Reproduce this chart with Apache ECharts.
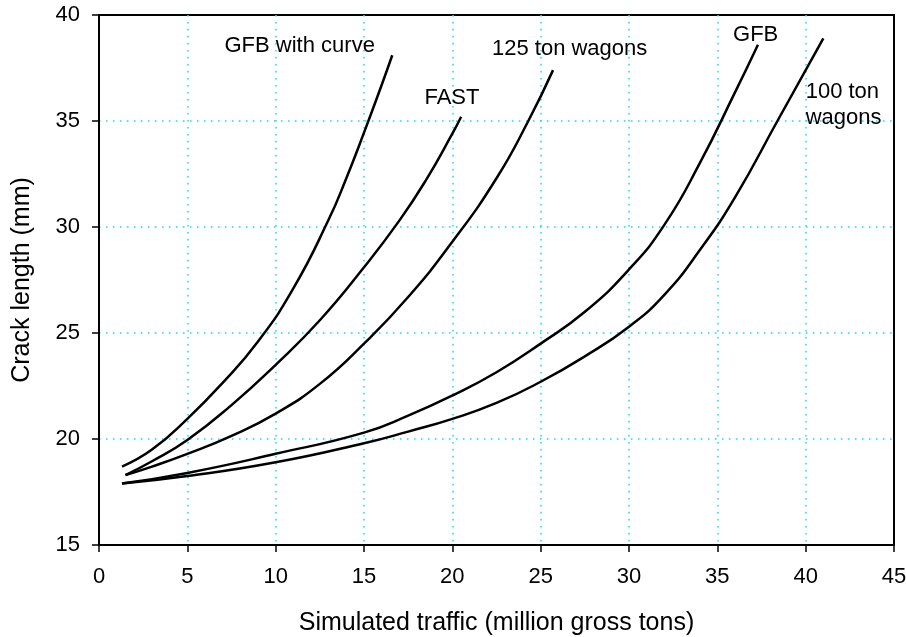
<!DOCTYPE html>
<html>
<head>
<meta charset="utf-8">
<script src="https://cdn.jsdelivr.net/npm/echarts@6/dist/echarts.min.js"></script>
<style>
  html, body { margin: 0; padding: 0; background: #fff; }
  #chart { width: 906px; height: 637px; }
</style>
</head>
<body>
<div id="chart"></div>
<script>
// Crack growth versus simulated traffic for several loading scenarios
const seriesNames = ['GFB with curve', 'FAST', '125 ton wagons', 'GFB', '100 ton wagons'];

const gfbCurveX = [1.3, 3, 5, 7, 9, 11, 13, 14, 15, 16, 16.6];
const gfbCurveY = [18.7, 19.5, 20.95, 22.65, 24.6, 27.1, 30.35, 32.3, 34.45, 36.7, 38.1];

const fastX = [1.5, 3, 5, 7.5, 10, 12.5, 15, 17, 18.5, 20, 20.5];
const fastY = [18.3, 18.95, 19.95, 21.6, 23.5, 25.6, 28.1, 30.3, 32.2, 34.4, 35.2];

const wagons125X = [1.5, 3, 5, 7.5, 10, 12.5, 15, 17.5, 20, 22.5, 24.3, 25.7];
const wagons125Y = [18.3, 18.7, 19.3, 20.15, 21.2, 22.6, 24.5, 26.7, 29.3, 32.3, 35.0, 37.4];

const gfbX = [1.3, 5, 10, 15, 17.5, 20, 22.5, 25, 27.5, 30, 32, 34, 36, 37.3];
const gfbY = [17.9, 18.4, 19.3, 20.3, 21.1, 22.05, 23.15, 24.5, 26.0, 28.0, 30.1, 33.0, 36.35, 38.6];

const wagons100X = [1.3, 5, 10, 15, 17.5, 20, 22.5, 25, 27.5, 30, 32, 34, 36, 38.4, 41];
const wagons100Y = [17.9, 18.25, 18.9, 19.8, 20.35, 20.95, 21.7, 22.7, 23.9, 25.3, 26.8, 28.9, 31.4, 35.0, 38.9];

// Where each curve's caption sits, in axis units
const labelX = [11.36, 19.98, 26.64, 37.17, 40.0];
const labelY = [38.54, 36.08, 38.4, 39.06, 35.75];
const labelText = ['GFB with curve', 'FAST', '125 ton wagons', 'GFB', '100 ton\nwagons'];
const labelAlign = ['center', 'center', 'center', 'center', 'left'];

const xTicks = { min: 0, max: 45, interval: 5 };
const yTicks = { min: 15, max: 40, interval: 5 };

const FONT = '"Liberation Sans", Arial, sans-serif';

function pairs(xs, ys) {
  return xs.map((x, i) => [x, ys[i]]);
}

const curves = [
  pairs(gfbCurveX, gfbCurveY),
  pairs(fastX, fastY),
  pairs(wagons125X, wagons125Y),
  pairs(gfbX, gfbY),
  pairs(wagons100X, wagons100Y)
];

const chart = echarts.init(document.getElementById('chart'), null, { renderer: 'canvas' });

const series = curves.map((data, i) => ({
  name: seriesNames[i],
  type: 'line',
  data: data,
  smooth: 0.5,
  showSymbol: false,
  lineStyle: { color: '#000', width: 2.5 }
}));

const axisCommon = {
  axisLine: { show: true, onZero: false, lineStyle: { color: '#000', width: 2 } },
  axisTick: { show: true, inside: false, length: 7, lineStyle: { color: '#000', width: 1.5 } },
  splitLine: {
    show: true, showMinLine: false, showMaxLine: false,
    lineStyle: { color: '#00E8E8', width: 1.5, type: [1.5, 5.5] }
  },
  nameTextStyle: { color: '#000', fontFamily: FONT, fontSize: 25 }
};

chart.setOption({
  animation: false,
  backgroundColor: '#fff',
  grid: {
    left: 99, right: 12, top: 15, bottom: 92,
    outerBoundsMode: 'none',
    containLabel: false,
    show: true, borderColor: '#000', borderWidth: 2, backgroundColor: 'transparent'
  },
  xAxis: Object.assign({}, axisCommon, {
    type: 'value',
    min: xTicks.min, max: xTicks.max, interval: xTicks.interval,
    name: 'Simulated traffic (million gross tons)',
    nameLocation: 'middle',
    nameGap: 66,
    axisLabel: { color: '#000', fontFamily: FONT, fontSize: 22, margin: 21 }
  }),
  yAxis: Object.assign({}, axisCommon, {
    type: 'value',
    min: yTicks.min, max: yTicks.max, interval: yTicks.interval,
    name: 'Crack length (mm)',
    nameLocation: 'middle',
    nameGap: 64,
    axisLabel: { color: '#000', fontFamily: FONT, fontSize: 22, margin: 19 }
  }),
  series: series
});

// Curve captions, placed through the chart's own coordinate system
const captions = labelText.map((text, i) => {
  const p = chart.convertToPixel({ gridIndex: 0 }, [labelX[i], labelY[i]]);
  return {
    type: 'text',
    x: p[0],
    y: p[1],
    style: {
      text: text,
      fill: '#000',
      font: '22px ' + FONT,
      lineHeight: 26,
      align: labelAlign[i],
      verticalAlign: 'middle'
    },
    z: 10
  };
});
chart.setOption({ graphic: captions });
</script>
</body>
</html>
